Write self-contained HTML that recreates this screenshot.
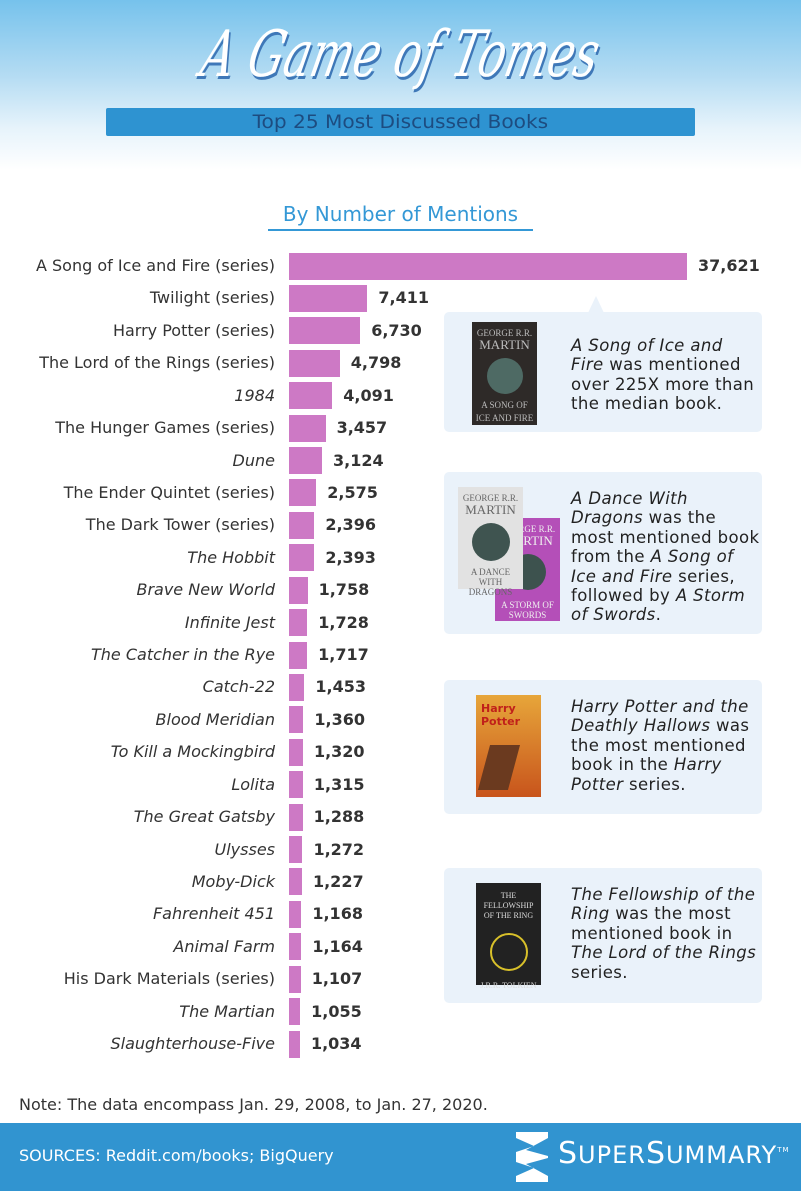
<!DOCTYPE html>
<html><head><meta charset="utf-8"><style>
body{margin:0;width:801px;height:1191px;position:relative;overflow:hidden;font-family:"DejaVu Sans","Liberation Sans",sans-serif;background:#fff}
.hdr{position:absolute;left:0;top:0;width:801px;height:170px;background:linear-gradient(#76c2ec 0%,#b5dcf3 45%,#e6f3fb 75%,#fff 100%)}
.title{position:absolute;left:0;width:801px;top:18px;text-align:center;font-family:"DejaVu Serif","Liberation Serif",serif;font-style:italic;font-size:64px;color:#fff;text-shadow:3px 3px 0 #3f78b8;letter-spacing:0px;transform:skewX(-12deg) scaleX(0.7)}
.sub{position:absolute;left:106px;top:108px;width:589px;height:28px;background:#2e93d1;border-radius:2px;color:#1d4c80;font-size:19px;text-align:center;line-height:29px}
.sub span{display:inline-block;transform:scaleX(1.06)}
.by{position:absolute;left:268px;top:202px;width:265px;text-align:center;color:#3498d6;font-size:20px;border-bottom:2px solid #3498d6;padding-bottom:3px}
.lab{position:absolute;right:526px;font-size:16px;color:#333;white-space:nowrap;line-height:18px}
.i{font-style:italic}
.bar{position:absolute;left:289px;height:27px;background:#cd79c5}
.val{position:absolute;font-size:16px;font-weight:bold;color:#333;line-height:18px}
.pan{position:absolute;left:444px;width:318px;background:#eaf2fa;border-radius:5px}
.txt{position:absolute;left:127px;font-size:16.5px;line-height:19.4px;color:#222;letter-spacing:0.4px;white-space:nowrap}
.cov{position:absolute;font-family:"Liberation Serif",serif;text-align:center;font-size:9px;line-height:10px}
.note{position:absolute;left:19px;top:1095px;font-size:16px;color:#333}
.foot{position:absolute;left:0;top:1123px;width:801px;height:68px;background:#3194d0}
</style></head><body>
<div class="hdr"></div>
<div class="title">A Game of Tomes</div>
<div class="sub"><span>Top 25 Most Discussed Books</span></div>
<div class="by">By Number of Mentions</div>
<div id="chart"></div>
<div style="position:absolute;left:588px;top:296px;width:0;height:0;border-left:8px solid transparent;border-right:8px solid transparent;border-bottom:17px solid #eaf2fa"></div>
<div class="pan" style="top:312px;height:120px">
 <div class="cov" style="left:28px;top:10px;width:65px;height:103px;background:#2e2a28;color:#bbb"><div style="margin-top:6px">GEORGE R.R.</div><div style="font-size:13px;line-height:14px">MARTIN</div><div style="width:36px;height:36px;border-radius:50%;background:#4e6a64;margin:6px auto"></div><div>A SONG OF</div><div style="margin-top:3px">ICE AND FIRE</div></div>
 <div class="txt" style="top:24px"><i>A Song of Ice and<br>Fire</i> was mentioned<br>over 225X more than<br>the median book.</div>
</div>
<div class="pan" style="top:472px;height:162px">
 <div class="cov" style="left:51px;top:46px;width:65px;height:103px;background:#b44fb8;color:#eee"><div style="margin-top:6px">GEORGE R.R.</div><div style="font-size:13px;line-height:14px">MARTIN</div><div style="width:36px;height:36px;border-radius:50%;background:#3d524e;margin:6px auto"></div><div style="margin-top:10px">A STORM OF<br>SWORDS</div></div>
 <div class="cov" style="left:14px;top:15px;width:65px;height:102px;background:#e2e2e2;color:#666"><div style="margin-top:6px">GEORGE R.R.</div><div style="font-size:13px;line-height:14px">MARTIN</div><div style="width:38px;height:38px;border-radius:50%;background:#3f5450;margin:6px auto"></div><div>A DANCE<br>WITH<br>DRAGONS</div></div>
 <div class="txt" style="top:17px"><i>A Dance With<br>Dragons</i> was the<br>most mentioned book<br>from the <i>A Song of<br>Ice and Fire</i> series,<br>followed by <i>A Storm<br>of Swords</i>.</div>
</div>
<div class="pan" style="top:680px;height:134px">
 <div style="position:absolute;left:32px;top:15px;width:65px;height:102px;background:linear-gradient(#e7a63a,#c8541c)"><div style="color:#c0201a;font-size:11px;font-weight:bold;margin:7px 0 0 5px">Harry Potter</div><div style="position:absolute;left:8px;top:50px;width:30px;height:45px;background:#6b3a1f;transform:skewX(-15deg)"></div></div>
 <div class="txt" style="top:17px"><i>Harry Potter and the<br>Deathly Hallows</i> was<br>the most mentioned<br>book in the <i>Harry<br>Potter</i> series.</div>
</div>
<div class="pan" style="top:868px;height:135px">
 <div class="cov" style="left:32px;top:15px;width:65px;height:102px;background:#222;color:#ddd"><div style="margin-top:8px;font-size:8px">THE FELLOWSHIP<br>OF THE RING</div><div style="width:34px;height:34px;border-radius:50%;border:2px solid #d8c02a;margin:12px auto 0"></div><div style="margin-top:10px;font-size:8px">J.R.R. TOLKIEN</div></div>
 <div class="txt" style="top:17px"><i>The Fellowship of the<br>Ring</i> was the most<br>mentioned book in<br><i>The Lord of the Rings</i><br>series.</div>
</div>
<div class="note">Note: The data encompass Jan. 29, 2008, to Jan. 27, 2020.</div>
<div class="foot">
 <div style="position:absolute;left:19px;top:23px;color:#fff;font-size:16px">SOURCES: Reddit.com/books; BigQuery</div>
 <svg style="position:absolute;left:516px;top:9px" width="32" height="50" viewBox="0 0 32 50"><polygon points="0,0 32,0 32,6 10,18 32,24 32,26 10,32 32,44 32,50 0,50 0,44 18,36 0,30 0,20 18,14 0,6" fill="#fff"/></svg>
 <div style="position:absolute;left:558px;top:13px;color:#fff;font-size:30px;letter-spacing:1px;white-space:nowrap">S<span style="font-size:24px">UPER</span>S<span style="font-size:24px">UMMARY</span><sup style="font-size:7px">TM</sup></div>
</div>
<script>
var d=[["A Song of Ice and Fire (series)",37621,0],["Twilight (series)",7411,0],["Harry Potter (series)",6730,0],["The Lord of the Rings (series)",4798,0],["1984",4091,1],["The Hunger Games (series)",3457,0],["Dune",3124,1],["The Ender Quintet (series)",2575,0],["The Dark Tower (series)",2396,0],["The Hobbit",2393,1],["Brave New World",1758,1],["Infinite Jest",1728,1],["The Catcher in the Rye",1717,1],["Catch-22",1453,1],["Blood Meridian",1360,1],["To Kill a Mockingbird",1320,1],["Lolita",1315,1],["The Great Gatsby",1288,1],["Ulysses",1272,1],["Moby-Dick",1227,1],["Fahrenheit 451",1168,1],["Animal Farm",1164,1],["His Dark Materials (series)",1107,0],["The Martian",1055,1],["Slaughterhouse-Five",1034,1]];
var h="";d.forEach(function(r,i){var c=266+i*32.42,w=r[1]*0.01058;h+='<div class="lab'+(r[2]?' i':'')+'" style="top:'+(c-9)+'px">'+r[0]+'</div><div class="bar" style="top:'+(c-13.5)+'px;width:'+w+'px"></div><div class="val" style="top:'+(c-9)+'px;left:'+(289+w+11)+'px">'+r[1].toLocaleString("en-US")+'</div>';});
document.getElementById("chart").innerHTML=h;
</script>
</body></html>
